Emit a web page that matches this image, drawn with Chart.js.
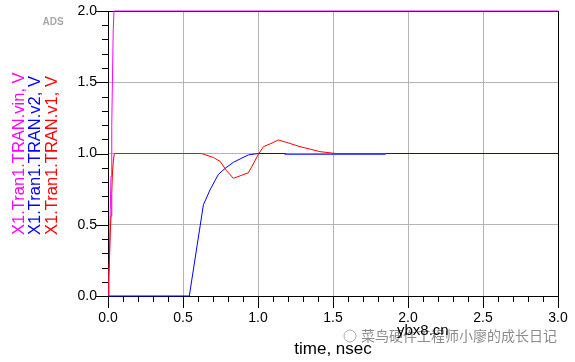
<!DOCTYPE html>
<html>
<head>
<meta charset="utf-8">
<script src="https://cdn.jsdelivr.net/npm/chart.js@4.4.1/dist/chart.umd.min.js"></script>
<style>
  body { margin: 0; background: #fff; }
  #wrap { width: 575px; height: 362px; }
</style>
</head>
<body>
<div id="wrap"><canvas id="chart-tran"></canvas></div>
<script>
// time axis in nsec, voltages in V
var xTicks = [0.0, 0.5, 1.0, 1.5, 2.0, 2.5, 3.0];
var yTicks = [0.0, 0.5, 1.0, 1.5, 2.0];

var timeVin = [0, 0.005, 0.01, 0.015, 0.02, 0.025, 0.03, 0.035, 0.04, 3.0];
var vin     = [0, 0.1, 0.25, 0.6, 0.84, 1.19, 1.55, 1.87, 2.0, 2.0];

var timeV2 = [0, 0.542, 0.636, 0.68, 0.736, 0.786, 0.836, 0.886, 0.936, 1.0, 1.18, 1.18, 1.85, 1.85, 3.0];
var v2     = [0, 0, 0.64, 0.744, 0.854, 0.9, 0.938, 0.965, 0.99, 1.0, 1.0, 0.995, 0.995, 1.0, 1.0];

var timeV1 = [0, 0.005, 0.01, 0.015, 0.02, 0.025, 0.03, 0.035, 0.042, 0.624, 0.702, 0.747, 0.79, 0.836, 0.86, 0.936, 0.96, 1.0, 1.036, 1.08, 1.136, 1.2, 1.28, 1.35, 1.413, 1.52, 1.85];
var v1     = [0, 0.15, 0.28, 0.45, 0.56, 0.72, 0.87, 0.94, 1.0, 1.0, 0.972, 0.945, 0.88, 0.826, 0.835, 0.865, 0.91, 0.99, 1.048, 1.067, 1.095, 1.075, 1.048, 1.03, 1.013, 1.0, 1.0];

var yTitles = ["X1.Tran1.TRAN.vin, V", "X1.Tran1.TRAN.v2, V", "X1.Tran1.TRAN.v1, V"];
var lineColors = ["#ff00ff", "#0000ff", "#ff0000"];

function toPoints(xs, ys) {
  var pts = [];
  xs.forEach(function (x, i) {
    pts.push({ x: x, y: ys[i] });
  });
  return pts;
}

function isMajor(v) {
  return Math.abs(v * 2 - Math.round(v * 2)) < 1e-6;
}

// border box, minor/major tick marks, titles, labels
var adsDecor = {
  id: "adsDecor",
  beforeDatasetsDraw: function (chart) {
    var ctx = chart.ctx, a = chart.chartArea;
    ctx.save();
    ctx.strokeStyle = "#000";
    ctx.lineWidth = 1;
    ctx.strokeRect(Math.round(a.left) + 0.5, Math.round(a.top) + 0.5, Math.round(a.right - a.left), Math.round(a.bottom - a.top));
    ctx.restore();
  },
  afterDraw: function (chart) {
    var ctx = chart.ctx, a = chart.chartArea;
    var xs = chart.scales.x, ys = chart.scales.y;
    ctx.save();
    ctx.strokeStyle = "#000";
    ctx.lineWidth = 1;
    ctx.beginPath();
    for (var i = 0; i <= 30; i++) {
      var v = i / 10;
      var px = Math.round(xs.getPixelForValue(v)) + 0.5;
      ctx.moveTo(px, a.bottom);
      ctx.lineTo(px, a.bottom + (isMajor(v) ? 12 : 6));
    }
    for (var j = 0; j <= 20; j++) {
      var w = j / 10;
      var py = Math.round(ys.getPixelForValue(w)) + 0.5;
      ctx.moveTo(a.left, py);
      ctx.lineTo(a.left - (isMajor(w) ? 12 : 6), py);
    }
    ctx.stroke();

    // y title, three coloured lines
    ctx.font = "16.5px 'Liberation Sans', Arial, sans-serif";
    ctx.textAlign = "left";
    ctx.textBaseline = "alphabetic";
    var baseX = [23.5, 40, 56.5];
    yTitles.forEach(function (t, k) {
      ctx.save();
      ctx.translate(baseX[k], 235);
      ctx.rotate(-Math.PI / 2);
      ctx.fillStyle = lineColors[k];
      ctx.fillText(t, 0, 0);
      ctx.restore();
    });

    // x title
    ctx.fillStyle = "#000";
    ctx.textAlign = "center";
    ctx.textBaseline = "middle";
    ctx.font = "17px 'Liberation Sans', Arial, sans-serif";
    ctx.fillText("time, nsec", (a.left + a.right) / 2, 349);

    // ADS tag
    ctx.fillStyle = "#a8a8a8";
    ctx.font = "bold 10px 'Liberation Sans', Arial, sans-serif";
    ctx.fillText("ADS", 53, 22);

    // watermark
    ctx.textAlign = "left";
    ctx.fillStyle = "#8c8c8c";
    ctx.font = "14px 'Noto Sans CJK SC', sans-serif";
    ctx.fillText("菜鸟硬件工程师小廖的成长日记", 361, 336);
    ctx.strokeStyle = "#b0b0b0";
    ctx.beginPath();
    ctx.arc(350, 336, 6, 0, Math.PI * 2);
    ctx.stroke();
    ctx.fillStyle = "#000";
    ctx.font = "15px 'Liberation Sans', Arial, sans-serif";
    ctx.fillText("ybx8.cn", 397, 331);
    ctx.restore();
  }
};

function noPad(scale) {
  scale.paddingTop = 0;
  scale.paddingBottom = 0;
  scale.paddingLeft = 0;
  scale.paddingRight = 0;
}

new Chart("chart-tran", {
  type: "line",
  data: {
    datasets: [{
      data: toPoints(timeV1, v1),
      borderColor: lineColors[2],
      order: 0
    }, {
      data: toPoints(timeV2, v2),
      borderColor: lineColors[1],
      order: 1
    }, {
      data: toPoints(timeVin, vin),
      borderColor: lineColors[0],
      order: 2
    }]
  },
  options: {
    responsive: true,
    maintainAspectRatio: false,
    devicePixelRatio: 1,
    animation: false,
    layout: { padding: { top: 11, right: 17, left: 0, bottom: 0 } },
    datasets: {
      line: { borderWidth: 1, pointRadius: 0, tension: 0, clip: 2 }
    },
    plugins: {
      legend: { display: false },
      tooltip: { enabled: false }
    },
    scales: {
      x: {
        type: "linear",
        min: 0,
        max: 3,
        afterFit: function (scale) { scale.height = 66; noPad(scale); },
        afterBuildTicks: function (scale) {
          scale.ticks = xTicks.map(function (v) { return { value: v }; });
        },
        ticks: {
          padding: 14,
          color: "#000",
          font: { family: "'Liberation Sans', Arial, sans-serif", size: 14 },
          maxRotation: 0,
          callback: function (v) { return v.toFixed(1); }
        },
        grid: { color: "#b4b4b4", lineWidth: 1, drawTicks: false },
        border: { display: false }
      },
      y: {
        min: 0,
        max: 2,
        afterFit: function (scale) { scale.width = 108; noPad(scale); },
        afterBuildTicks: function (scale) {
          scale.ticks = yTicks.map(function (v) { return { value: v }; });
        },
        ticks: {
          padding: 11,
          color: "#000",
          font: { family: "'Liberation Sans', Arial, sans-serif", size: 14 },
          callback: function (v) { return v.toFixed(1); }
        },
        grid: { color: "#b4b4b4", lineWidth: 1, drawTicks: false },
        border: { display: false }
      }
    }
  },
  plugins: [adsDecor]
});
</script>
</body>
</html>
